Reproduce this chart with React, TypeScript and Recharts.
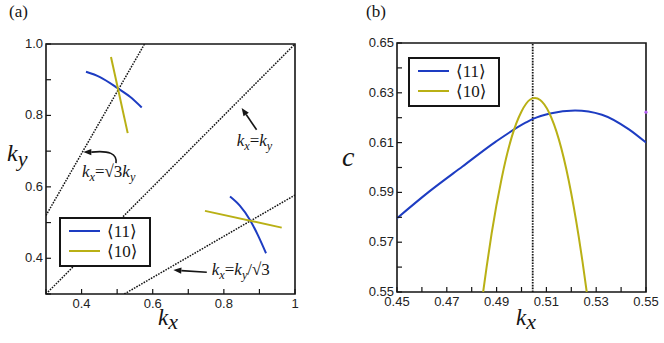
import React from 'react';
import {
  LineChart,
  Line,
  XAxis,
  YAxis,
  ReferenceLine,
  ReferenceArea,
  ReferenceDot,
  Legend,
  Label,
} from 'recharts';

const BLUE = '#1d3cc2';
const OLIVE = '#b9b015';
const INK = '#151515';
const SANS = '"Liberation Sans", Arial, Helvetica, sans-serif';
const SERIF = '"Liberation Serif", "Times New Roman", "DejaVu Serif", serif';

// ---------- panel (a) ----------
const aXTicks = [0.3, 0.4, 0.5, 0.6, 0.7, 0.8, 0.9, 1.0];
const aXTickLabels = ['', '0.4', '', '0.6', '', '0.8', '', '1'];
const aYTicks = [0.3, 0.4, 0.5, 0.6, 0.7, 0.8, 0.9, 1.0];
const aYTickLabels = ['', '0.4', '', '0.6', '', '0.8', '', '1.0'];

const upper11Kx = [0.4125, 0.4518, 0.5019, 0.5362, 0.5691];
const upper11Ky = [0.9224, 0.9075, 0.8761, 0.8523, 0.8223];
const upper10Kx = [0.4827, 0.5297];
const upper10Ky = [0.9636, 0.7505];
const lower11Kx = [0.8173, 0.8454, 0.8735, 0.896, 0.9185];
const lower11Ky = [0.5728, 0.5467, 0.5075, 0.464, 0.4141];
const lower10Kx = [0.747, 0.9626];
const lower10Ky = [0.5327, 0.4859];

const steepKx = [0.3, 0.577];
const steepKy = [0.52, 1.0];
const diagKx = [0.3, 1.0];
const diagKy = [0.3, 1.0];
const shallowKx = [0.52, 1.0];
const shallowKy = [0.3, 0.577];

// annotation anchors (data coordinates)
const arrowDiag = [{ x: 0.892, y: 0.76 }, { x: 0.85, y: 0.821 }];
const arrowShallow = [{ x: 0.752, y: 0.361 }, { x: 0.658, y: 0.367 }];
const arrowSteep = [{ x: 0.4968, y: 0.6664 }, { x: 0.4049, y: 0.6973 }];
const noteDiag = { x: 0.836, y: 0.715 };
const noteSteep = { x: 0.401, y: 0.629 };
const noteShallow = { x: 0.766, y: 0.353 };

// ---------- panel (b) ----------
const bXTicks = [0.45, 0.46, 0.47, 0.48, 0.49, 0.5, 0.51, 0.52, 0.53, 0.54, 0.55];
const bXTickLabels = ['0.45', '', '0.47', '', '0.49', '', '0.51', '', '0.53', '', '0.55'];
const bYTicks = [0.55, 0.56, 0.57, 0.58, 0.59, 0.6, 0.61, 0.62, 0.63, 0.64, 0.65];
const bYTickLabels = ['0.55', '', '0.57', '', '0.59', '', '0.61', '', '0.63', '', '0.65'];

const b11Kx = [0.45, 0.4629, 0.4763, 0.4897, 0.5018, 0.5048, 0.5115, 0.5215, 0.5323, 0.543, 0.55];
const b11C = [0.5796, 0.5903, 0.6004, 0.6104, 0.6181, 0.6196, 0.6217, 0.6229, 0.6212, 0.6154, 0.61];
const b10Kx = [0.4846, 0.486, 0.488, 0.492, 0.496, 0.5, 0.5035, 0.5054, 0.5075, 0.511, 0.515, 0.519, 0.523, 0.5245, 0.5262];
const b10C = [0.55, 0.5601, 0.5735, 0.5955, 0.612, 0.6225, 0.6273, 0.6279, 0.6271, 0.6222, 0.6113, 0.5946, 0.5721, 0.5622, 0.55];
const bMarkKx = 0.5045;
const bEdgeMark = { kx: 0.55, c: 0.6222 };

const legendLabels = ['\u27E811\u27E9', '\u27E810\u27E9'];
const legendColors = [BLUE, OLIVE];

const zip = (xs: number[], ys: number[], kx: string, ky: string) =>
  xs.map((x, i) => ({ [kx]: x, [ky]: ys[i] }));

const findLabel = (ticks: number[], labels: string[], v: number) => {
  const i = ticks.findIndex((t) => Math.abs(t - v) < 1e-9);
  return i >= 0 ? labels[i] : '';
};

const makeXTick = (ticks: number[], labels: string[]) => (props: any) => {
  const { x, y, payload } = props;
  const label = findLabel(ticks, labels, payload.value);
  return (
    <g>
      <line x1={x} x2={x} y1={y} y2={y - 5} stroke={INK} strokeWidth={1.2} />
      {label ? (
        <text x={x} y={y + 14} textAnchor="middle" fontFamily={SANS} fontSize={13} fill="#222">
          {label}
        </text>
      ) : null}
    </g>
  );
};

const makeYTick = (ticks: number[], labels: string[]) => (props: any) => {
  const { x, y, payload } = props;
  const label = findLabel(ticks, labels, payload.value);
  return (
    <g>
      <line x1={x} x2={x + 5} y1={y} y2={y} stroke={INK} strokeWidth={1.2} />
      {label ? (
        <text x={x - 3} y={y + 4} textAnchor="end" fontFamily={SANS} fontSize={13} fill="#222">
          {label}
        </text>
      ) : null}
    </g>
  );
};

const ArrowShape = (p: any) => {
  const { x1, y1, x2, y2 } = p;
  const ang = Math.atan2(y2 - y1, x2 - x1);
  const L = 8;
  const W = 3.2;
  const bx = x2 - L * Math.cos(ang);
  const by = y2 - L * Math.sin(ang);
  const px = -Math.sin(ang) * W;
  const py = Math.cos(ang) * W;
  return (
    <g>
      <line x1={x1} y1={y1} x2={bx} y2={by} stroke={INK} strokeWidth={1.6} />
      <polygon points={`${x2},${y2} ${bx + px},${by + py} ${bx - px},${by - py}`} fill={INK} />
    </g>
  );
};

const CurvedArrowShape = (p: any) => {
  const { x1, y1, x2, y2 } = p;
  const bx = x2 + 8;
  const by = y2;
  return (
    <g>
      <path d={`M${x1},${y1} Q${x1 + 2},${y2 - 3} ${bx},${by}`} fill="none" stroke={INK} strokeWidth={1.6} />
      <polygon points={`${x2},${y2} ${bx},${by - 3.2} ${bx},${by + 3.2}`} fill={INK} />
    </g>
  );
};

const mathText = (parts: { t: string; sub?: boolean; up?: boolean }[], size: number) => (p: any) => {
  const { cx, cy } = p;
  let shift = 0;
  return (
    <text x={cx} y={cy} fontFamily={SERIF} fontSize={size} fill={INK}>
      {parts.map((s, i) => {
        const target = s.sub ? 4 : 0;
        const dy = target - shift;
        shift = target;
        return (
          <tspan
            key={i}
            dy={dy}
            fontSize={s.sub ? size * 0.72 : size}
            fontStyle={s.up ? 'normal' : 'italic'}
          >
            {s.t}
          </tspan>
        );
      })}
    </text>
  );
};

const renderLegendBox = (w: number, h: number) => () => (
  <svg width={w} height={h} style={{ display: 'block' }}>
    <rect x={1} y={1} width={w - 2} height={h - 2} fill="#fff" stroke={INK} strokeWidth={2} />
    {legendLabels.map((lab, i) => (
      <g key={lab}>
        <line x1={10} x2={41} y1={14 + i * 20} y2={14 + i * 20} stroke={legendColors[i]} strokeWidth={2} />
        <text x={48} y={19.5 + i * 20} fontFamily={SERIF} fontSize={17} fill={INK}>
          {lab}
        </text>
      </g>
    ))}
  </svg>
);

const frameStroke = { stroke: INK, strokeWidth: 1.6, fill: 'none' };

function PanelA() {
  const dotted = { stroke: INK, strokeWidth: 1.5, strokeDasharray: '1.6 1.2', dot: false, isAnimationActive: false };
  return (
    <LineChart width={332} height={343} margin={{ top: 44, right: 37, bottom: 9, left: 6 }}>
      <XAxis
        type="number"
        dataKey="kx"
        domain={[0.3, 1]}
        ticks={aXTicks}
        interval={0}
        allowDataOverflow
        tickSize={0}
        tickMargin={0}
        tickLine={false}
        axisLine={false}
        height={40}
        tick={makeXTick(aXTicks, aXTickLabels)}
      >
        <Label
          content={(p: any) => (
            <text x={p.viewBox.x + 112} y={p.viewBox.y + 31} fontFamily={SERIF} fontStyle="italic" fontSize={23} fill={INK}>
              k<tspan dy={4} fontSize={22}>x</tspan>
            </text>
          )}
        />
      </XAxis>
      <YAxis
        type="number"
        dataKey="ky"
        domain={[0.3, 1]}
        ticks={aYTicks}
        interval={0}
        allowDataOverflow
        tickSize={0}
        tickMargin={0}
        tickLine={false}
        axisLine={false}
        width={40}
        tick={makeYTick(aYTicks, aYTickLabels)}
      >
        <Label
          content={(p: any) => (
            <text x={p.viewBox.x + 1} y={161} fontFamily={SERIF} fontStyle="italic" fontSize={24} fill={INK}>
              k<tspan dy={5} fontSize={22}>y</tspan>
            </text>
          )}
        />
      </YAxis>
      <ReferenceArea x1={0.3} x2={1} y1={0.3} y2={1} {...frameStroke} />
      <Line data={zip(steepKx, steepKy, 'kx', 'ky')} dataKey="ky" type="linear" {...dotted} />
      <Line data={zip(diagKx, diagKy, 'kx', 'ky')} dataKey="ky" type="linear" {...dotted} />
      <Line data={zip(shallowKx, shallowKy, 'kx', 'ky')} dataKey="ky" type="linear" {...dotted} />
      <Line data={zip(upper11Kx, upper11Ky, 'kx', 'ky')} dataKey="ky" type="monotone" stroke={BLUE} strokeWidth={2} dot={false} isAnimationActive={false} />
      <Line data={zip(upper10Kx, upper10Ky, 'kx', 'ky')} dataKey="ky" type="linear" stroke={OLIVE} strokeWidth={2} dot={false} isAnimationActive={false} />
      <Line data={zip(lower11Kx, lower11Ky, 'kx', 'ky')} dataKey="ky" type="monotone" stroke={BLUE} strokeWidth={2} dot={false} isAnimationActive={false} />
      <Line data={zip(lower10Kx, lower10Ky, 'kx', 'ky')} dataKey="ky" type="linear" stroke={OLIVE} strokeWidth={2} dot={false} isAnimationActive={false} />
      <ReferenceLine segment={arrowDiag} shape={ArrowShape} />
      <ReferenceLine segment={arrowShallow} shape={ArrowShape} />
      <ReferenceLine segment={arrowSteep} shape={CurvedArrowShape} />
      <ReferenceDot
        x={noteDiag.x}
        y={noteDiag.y}
        shape={mathText([{ t: 'k' }, { t: 'x', sub: true }, { t: '=', up: true }, { t: 'k' }, { t: 'y', sub: true }], 17)}
      />
      <ReferenceDot
        x={noteSteep.x}
        y={noteSteep.y}
        shape={mathText([{ t: 'k' }, { t: 'x', sub: true }, { t: '=\u221A3', up: true }, { t: 'k' }, { t: 'y', sub: true }], 17)}
      />
      <ReferenceDot
        x={noteShallow.x}
        y={noteShallow.y}
        shape={mathText(
          [{ t: 'k' }, { t: 'x', sub: true }, { t: '=', up: true }, { t: 'k' }, { t: 'y', sub: true }, { t: '/\u221A3', up: true }],
          17
        )}
      />
      <Legend
        layout="horizontal"
        align="center"
        verticalAlign="middle"
        wrapperStyle={{ left: 59, top: 217, width: 92, height: 50 }}
        content={renderLegendBox(92, 50)}
      />
    </LineChart>
  );
}

function PanelB() {
  return (
    <LineChart width={332} height={343} margin={{ top: 43, right: 18, bottom: 11, left: 5 }}>
      <XAxis
        type="number"
        dataKey="kx"
        domain={[0.45, 0.55]}
        ticks={bXTicks}
        interval={0}
        allowDataOverflow
        tickSize={0}
        tickMargin={0}
        tickLine={false}
        axisLine={false}
        height={40}
        tick={makeXTick(bXTicks, bXTickLabels)}
      >
        <Label
          content={(p: any) => (
            <text x={p.viewBox.x + 119} y={p.viewBox.y + 33} fontFamily={SERIF} fontStyle="italic" fontSize={23} fill={INK}>
              k<tspan dy={4} fontSize={22}>x</tspan>
            </text>
          )}
        />
      </XAxis>
      <YAxis
        type="number"
        dataKey="c"
        domain={[0.55, 0.65]}
        ticks={bYTicks}
        interval={0}
        allowDataOverflow
        tickSize={0}
        tickMargin={0}
        tickLine={false}
        axisLine={false}
        width={60}
        tick={makeYTick(bYTicks, bYTickLabels)}
      >
        <Label
          content={(p: any) => (
            <text x={p.viewBox.x + 5} y={166} fontFamily={SERIF} fontStyle="italic" fontSize={28} fill={INK}>
              c
            </text>
          )}
        />
      </YAxis>
      <ReferenceArea x1={0.45} x2={0.55} y1={0.55} y2={0.65} {...frameStroke} />
      <ReferenceLine x={bMarkKx} stroke={INK} strokeWidth={1.8} strokeDasharray="1.6 1.2" />
      <Line data={zip(b11Kx, b11C, 'kx', 'c')} dataKey="c" type="monotone" stroke={BLUE} strokeWidth={2} dot={false} isAnimationActive={false} />
      <Line data={zip(b10Kx, b10C, 'kx', 'c')} dataKey="c" type="monotone" stroke={OLIVE} strokeWidth={2} dot={false} isAnimationActive={false} />
      <ReferenceDot x={bEdgeMark.kx} y={bEdgeMark.c} r={1.6} fill="#b35ef2" stroke="none" />
      <Legend
        layout="horizontal"
        align="center"
        verticalAlign="middle"
        wrapperStyle={{ left: 76, top: 57, width: 92, height: 50 }}
        content={renderLegendBox(92, 50)}
      />
    </LineChart>
  );
}

export default function App() {
  return (
    <div style={{ position: 'absolute', left: 0, top: 0, width: 664, height: 343, background: '#fff', overflow: 'hidden' }}>
      <div style={{ position: 'absolute', left: 0, top: 0 }}>
        <PanelA />
      </div>
      <div style={{ position: 'absolute', left: 332, top: 0 }}>
        <PanelB />
      </div>
      <div style={{ position: 'absolute', left: 9, top: 2, fontFamily: SERIF, fontSize: 17, color: INK }}>(a)</div>
      <div style={{ position: 'absolute', left: 366, top: 2, fontFamily: SERIF, fontSize: 17, color: INK }}>(b)</div>
    </div>
  );
}
